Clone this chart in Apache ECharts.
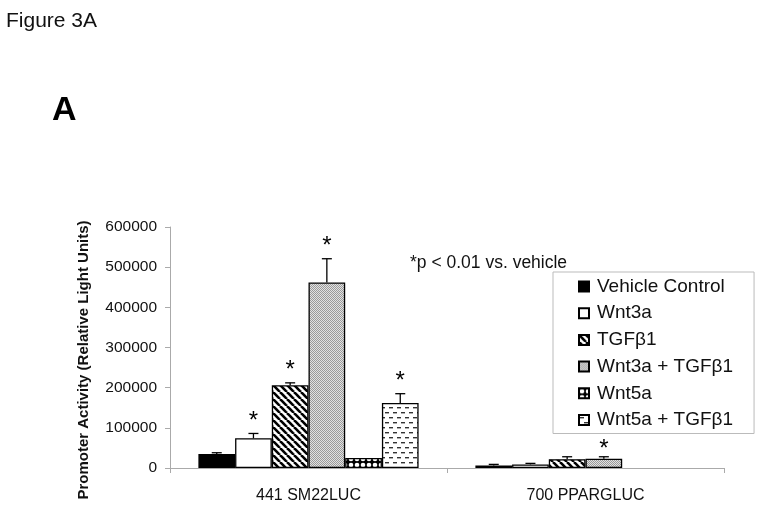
<!DOCTYPE html>
<html>
<head>
<meta charset="utf-8">
<script src="https://cdn.jsdelivr.net/npm/echarts@6/dist/echarts.min.js"></script>
<style>html,body{margin:0;padding:0;background:#fff}#c{width:764px;height:510px}</style>
</head>
<body>
<div id="c"></div>
<script>
// ---- data ----
const categories = ['441 SM22LUC', '700 PPARGLUC'];
const seriesNames = ['Vehicle Control', 'Wnt3a', 'TGFβ1', 'Wnt3a + TGFβ1', 'Wnt5a', 'Wnt5a + TGFβ1'];
const vehicleControl = [35000, 6500];
const wnt3a = [74000, 9000];
const tgfb1 = [206000, 22000];
const wnt3aTgfb1 = [462000, 23000];
const wnt5a = [25000, null];
const wnt5aTgfb1 = [162000, null];
// upper end of error bars
const vehicleControlErr = [38000, 9000];
const wnt3aErr = [86000, 11500];
const tgfb1Err = [212000, 28000];
const wnt3aTgfb1Err = [521000, 28000];
const wnt5aErr = [null, null];
const wnt5aTgfb1Err = [185000, null];
// significance markers (*)
const vehicleControlSig = [0, 0];
const wnt3aSig = [1, 0];
const tgfb1Sig = [1, 0];
const wnt3aTgfb1Sig = [1, 1];
const wnt5aSig = [0, 0];
const wnt5aTgfb1Sig = [1, 0];
const yTicks = [0, 100000, 200000, 300000, 400000, 500000, 600000];

const values = [vehicleControl, wnt3a, tgfb1, wnt3aTgfb1, wnt5a, wnt5aTgfb1];
const errs = [vehicleControlErr, wnt3aErr, tgfb1Err, wnt3aTgfb1Err, wnt5aErr, wnt5aTgfb1Err];
const sigs = [vehicleControlSig, wnt3aSig, tgfb1Sig, wnt3aTgfb1Sig, wnt5aSig, wnt5aTgfb1Sig];

// ---- styles ----
const starOffset = [18, 13]; // px above error cap, per category
function tile(w, h, draw) {
  const c = document.createElement('canvas');
  c.width = w; c.height = h;
  const ctx = c.getContext('2d');
  ctx.fillStyle = '#fff'; ctx.fillRect(0, 0, w, h);
  draw(ctx);
  return { image: c, repeat: 'repeat' };
}
const fills = [
  '#000',
  '#fff',
  tile(7, 7, ctx => {
    ctx.strokeStyle = '#000'; ctx.lineWidth = 2.6;
    for (let k = -1; k <= 1; k++) { ctx.beginPath(); ctx.moveTo(k * 7, 0); ctx.lineTo(k * 7 + 7, 7); ctx.stroke(); }
  }),
  tile(2, 2, ctx => {
    ctx.fillStyle = '#e2e2e2'; ctx.fillRect(0, 0, 2, 2);
    ctx.fillStyle = '#9a9a9a'; ctx.fillRect(0, 0, 1, 1); ctx.fillRect(1, 1, 1, 1);
  }),
  tile(6, 6, ctx => {
    ctx.fillStyle = '#000'; ctx.fillRect(0, 0, 6, 6);
    ctx.fillStyle = '#fff'; ctx.beginPath(); ctx.arc(3, 3, 2.3, 0, Math.PI * 2); ctx.fill();
  }),
  tile(8, 10, ctx => {
    ctx.fillStyle = '#333';
    ctx.fillRect(1, 2, 4, 1.4);
    ctx.fillRect(5, 7, 4, 1.4); ctx.fillRect(-3, 7, 4, 1.4);
  })
];

const GAP = 0.205;
const barSeries = seriesNames.map((name, i) => ({
  name, type: 'bar', barGap: '0%', barCategoryGap: (GAP * 100) + '%',
  data: values[i],
  itemStyle: { color: fills[i], borderColor: '#000', borderWidth: 1.3 },
  emphasis: { disabled: true }, z: 2
}));

const errData = [];
for (let s = 0; s < 6; s++) for (let c = 0; c < categories.length; c++) {
  if (values[s][c] == null) continue;
  errData.push([c, s, values[s][c], errs[s][c] == null ? values[s][c] : errs[s][c], sigs[s][c]]);
}

const errSeries = {
  type: 'custom', silent: true, z: 3,
  data: errData,
  encode: { x: 0, y: 3 },
  renderItem(params, api) {
    const c = api.value(0), s = api.value(1), v = api.value(2), t = api.value(3), sig = api.value(4);
    const band = api.size([1, 0])[0];
    const bw = band * (1 - GAP) / 6;
    const cx = api.coord([c, 0])[0] + (s - 2.5) * bw;
    const y0 = api.coord([c, v])[1], y1 = api.coord([c, t])[1];
    const ch = [];
    if (t > v) {
      ch.push({ type: 'line', shape: { x1: cx, y1: y0, x2: cx, y2: y1 }, style: { stroke: '#000', lineWidth: 1.3 } });
      ch.push({ type: 'line', shape: { x1: cx - 5, y1: y1, x2: cx + 5, y2: y1 }, style: { stroke: '#000', lineWidth: 1.3 } });
    }
    if (sig) {
      ch.push({ type: 'text', x: cx, y: y1 - starOffset[c] + 6, style: { text: '*', fontSize: 24, fontFamily: 'Liberation Sans, Arial', fill: '#000', align: 'center', verticalAlign: 'middle' } });
    }
    return { type: 'group', children: ch };
  }
};

const chart = echarts.init(document.getElementById('c'), null, { renderer: 'canvas' });
chart.setOption({
  animation: false,
  backgroundColor: '#fff',
  textStyle: { fontFamily: 'Liberation Sans, Arial' },
  grid: { left: 170, right: 40, top: 227, bottom: 42, containLabel: false },
  legend: {
    orient: 'vertical', left: 553, top: 272,
    data: seriesNames,
    backgroundColor: '#fff', borderColor: '#bbb', borderWidth: 1,
    padding: [4, 21, 3, 25],
    itemWidth: 10, itemHeight: 10, itemGap: 5.7,
    icon: 'rect',
    selectedMode: false,
    textStyle: { fontSize: 19, color: '#111', lineHeight: 21, padding: [0, 0, 0, 3] }
  },
  xAxis: {
    type: 'category', data: categories,
    axisLine: { lineStyle: { color: '#aaa', width: 1 } },
    axisTick: { show: true, length: 5, lineStyle: { color: '#aaa' } },
    axisLabel: { fontSize: 16, color: '#111', margin: 20 }
  },
  yAxis: {
    type: 'value', min: 0, max: 600000, interval: 100000,
    axisLine: { show: true, lineStyle: { color: '#aaa', width: 1 } },
    axisTick: { show: true, length: 5, lineStyle: { color: '#aaa' } },
    splitLine: { show: false },
    axisLabel: { fontSize: 15.5, color: '#111', margin: 13, formatter: v => yTicks.includes(v) ? String(v) : '' }
  },
  graphic: [
    { type: 'text', left: 6, top: 11, style: { text: 'Figure 3A', fontSize: 21, fill: '#111', fontFamily: 'Liberation Sans, Arial' } },
    { type: 'text', left: 52, top: 94, style: { text: 'A', fontSize: 34, fontWeight: 'bold', fill: '#000', fontFamily: 'Liberation Sans, Arial' } },
    { type: 'text', x: 84, y: 360, rotation: Math.PI / 2, style: { text: 'Promoter Activity (Relative Light Units)', fontSize: 15, fontWeight: 'bold', fill: '#111', align: 'center', verticalAlign: 'middle', fontFamily: 'Liberation Sans, Arial' } },
    { type: 'text', left: 410, top: 254, style: { text: '*p < 0.01 vs. vehicle', fontSize: 17.5, fill: '#111', fontFamily: 'Liberation Sans, Arial' } }
  ],
  series: [...barSeries, errSeries]
});
</script>
</body>
</html>
